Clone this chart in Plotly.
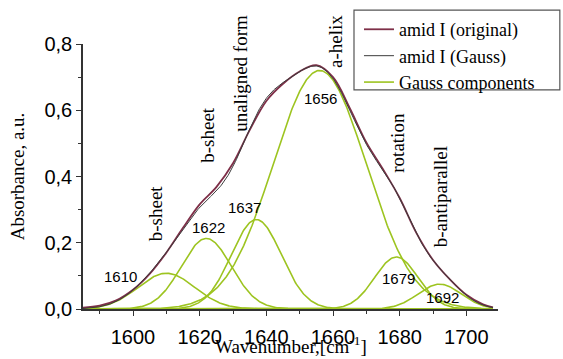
import numpy as np
import plotly.graph_objects as go

# Gaussian components of the amide I band (centre, height, width)
peak_centers = [1610, 1622, 1637, 1656, 1679, 1692]
peak_heights = [0.108, 0.213, 0.27, 0.72, 0.157, 0.075]
peak_sigmas = [8.5, 7.5, 7.5, 14.0, 6.5, 6.5]

# Measured amide I spectrum
orig_wavenumber = [1585, 1590, 1595, 1600, 1605, 1610, 1615, 1620, 1625, 1630,
                   1635, 1640, 1645, 1650, 1655, 1660, 1665, 1670, 1675, 1680,
                   1685, 1690, 1695, 1700, 1705, 1708]
orig_absorbance = [0.004, 0.010, 0.026, 0.058, 0.106, 0.170, 0.245, 0.316, 0.368, 0.440,
                   0.540, 0.628, 0.680, 0.717, 0.736, 0.700, 0.607, 0.503, 0.422, 0.335,
                   0.230, 0.148, 0.090, 0.043, 0.014, 0.005]

x_ticks = [1600, 1620, 1640, 1660, 1680, 1700]
x_ticktext = ["1600", "1620", "1640", "1660", "1680", "1700"]
y_ticks = [0.0, 0.2, 0.4, 0.6, 0.8]
y_ticktext = ["0,0", "0,2", "0,4", "0,6", "0,8"]

# Band assignments (rotated labels) and peak position labels
band_names = ["b-sheet", "b-sheet", "unaligned form", "a-helix", "rotation", "b-antiparallel"]
band_pos = [(1606.6, 0.289), (1622.5, 0.526), (1632.4, 0.710), (1660.6, 0.806),
            (1679.5, 0.502), (1692.1, 0.337)]
peak_label_pos = [(1596.1, 0.099), (1622.5, 0.247), (1633.3, 0.307), (1656.1, 0.635),
                  (1679.5, 0.093), (1692.7, 0.036)]

Y_MAX = 0.8
GREEN = "#9DC420"
MAROON = "#7E2F48"
GRAY = "#3C3C3C"
SERIF = "Liberation Serif, Times New Roman, serif"
SANS = "Liberation Sans, Arial, sans-serif"

wn = np.arange(1585, 1708.01, 0.25)
components = [h * np.exp(-((wn - c) ** 2) / (2 * s ** 2))
              for c, h, s in zip(peak_centers, peak_heights, peak_sigmas)]
gauss_sum = np.sum(components, axis=0)

fig = go.Figure()

for i, comp in enumerate(components):
    fig.add_trace(go.Scatter(
        x=wn, y=comp, mode="lines",
        line=dict(color=GREEN, width=1.6),
        name="Gauss components", legendgroup="comp",
        showlegend=(i == 0), legendrank=3,
    ))

fig.add_trace(go.Scatter(
    x=orig_wavenumber, y=orig_absorbance, mode="lines",
    line=dict(color=MAROON, width=1.8, shape="spline"),
    name="amid I (original)", legendgroup="orig", legendrank=1,
))
fig.add_trace(go.Scatter(
    x=wn, y=gauss_sum, mode="lines",
    line=dict(color=GRAY, width=1.0),
    name="amid I (Gauss)", legendgroup="fit", legendrank=2,
))

annotations = []
for text, (ax_, ay_) in zip(band_names, band_pos):
    annotations.append(dict(
        x=ax_, y=ay_ / Y_MAX, xref="x", yref="paper", text=text, showarrow=False,
        xanchor="center", yanchor="middle",
        textangle=-90, font=dict(family=SERIF, size=19, color="black"),
    ))
for c, (ax_, ay_) in zip(peak_centers, peak_label_pos):
    annotations.append(dict(
        x=ax_, y=ay_, xref="x", yref="y", text=str(c), showarrow=False,
        font=dict(family=SANS, size=15, color="black"),
    ))
annotations.append(dict(
    x=0.5, y=-0.188, xref="paper", yref="paper", text="Wavenumber,[cm<sup>-1</sup>]",
    showarrow=False, yanchor="bottom", font=dict(family=SERIF, size=19, color="black"),
))
annotations.append(dict(
    x=-0.157, y=0.5, xref="paper", yref="paper", text="Absorbance, a.u.",
    showarrow=False, xanchor="center", yanchor="middle", textangle=-90,
    font=dict(family=SERIF, size=19, color="black"),
))

fig.update_layout(
    width=563, height=359,
    margin=dict(l=83, r=65, t=43, b=50),
    plot_bgcolor="white", paper_bgcolor="white",
    showlegend=True,
    legend=dict(
        x=0.665, y=1.12, xanchor="left", yanchor="top",
        bgcolor="rgba(0,0,0,0)", borderwidth=0,
        font=dict(family=SERIF, size=18, color="black"),
        itemwidth=30, traceorder="grouped", tracegroupgap=0,
    ),
    annotations=annotations,
    shapes=[dict(type="rect", xref="paper", yref="paper",
                 x0=0.653, x1=1.149, y0=0.827, y1=1.128,
                 line=dict(color="#555555", width=1.2))],
)

fig.update_xaxes(
    range=[1585, 1709.5], showgrid=False, zeroline=False,
    showline=True, linecolor="#333333", linewidth=1.5,
    tickvals=x_ticks, ticktext=x_ticktext,
    ticks="outside", ticklen=5, tickwidth=1.3, tickcolor="#333333",
    ticklabelstandoff=4,
    tickfont=dict(family=SANS, size=20, color="black"),
    minor=dict(dtick=10, tick0=1590, ticks="outside", ticklen=3, tickcolor="#333333"),
)
fig.update_yaxes(
    range=[0, Y_MAX], showgrid=False, zeroline=False,
    showline=True, linecolor="#333333", linewidth=1.5,
    tickvals=y_ticks, ticktext=y_ticktext,
    ticks="outside", ticklen=5, tickwidth=1.3, tickcolor="#333333",
    tickfont=dict(family=SANS, size=20, color="black"),
    minor=dict(dtick=0.1, tick0=0.1, ticks="outside", ticklen=3, tickcolor="#333333"),
)

fig.write_html("out.html")
